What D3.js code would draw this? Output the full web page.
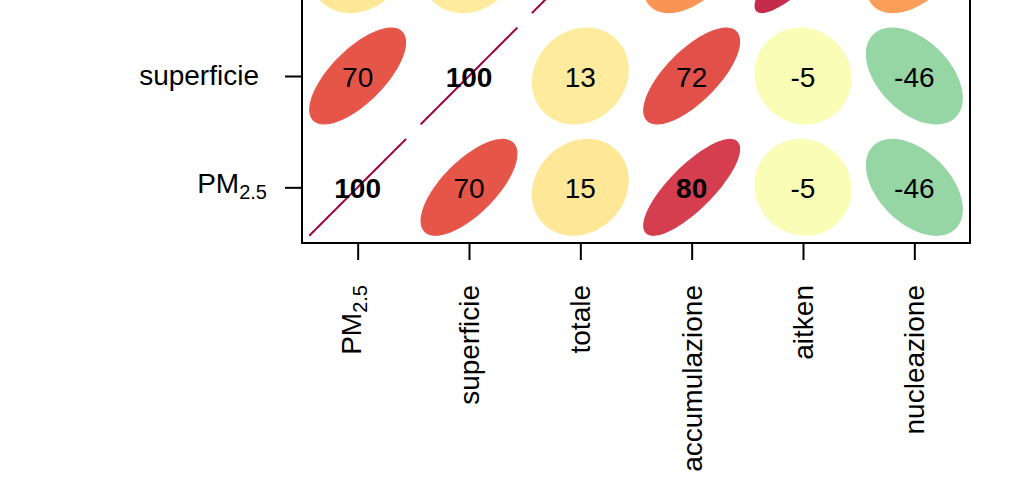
<!DOCTYPE html>
<html>
<head>
<meta charset="utf-8">
<script src="https://cdn.jsdelivr.net/npm/d3@7"></script>
<style>
  html, body { margin: 0; padding: 0; background: #fff; }
  svg { display: block; }
  text { font-family: "Liberation Sans", Arial, Helvetica, sans-serif; fill: #000; }
</style>
</head>
<body>
<svg id="chart" width="1024" height="478"></svg>
<script>
// ---- data ----
const categories = ["PM2.5", "superficie", "totale", "accumulazione", "aitken", "nucleazione"];
const labelMain  = ["PM", "superficie", "totale", "accumulazione", "aitken", "nucleazione"];
const labelSub   = ["2.5", "", "", "", "", ""];
// correlation (%) rows, bottom row first (visible rows only)
const rowPM25       = [100, 70, 15, 80, -5, -46];
const rowSuperficie = [70, 100, 13, 72, -5, -46];
const rowTotale     = [15, 13, 100, 48, 86, 45];
const corrRows = [rowPM25, rowSuperficie, rowTotale];
// Spectral palette (reversed: -1 -> blue/purple, +1 -> dark red)
const spectral = ["#5E4FA2","#3288BD","#66C2A5","#ABDDA4","#E6F598","#FFFFBF",
                  "#FEE08B","#FDAE61","#F46D43","#D53E4F","#9E0142"];

// ---- scales ----
const n = categories.length;
const W = 1024, H = 478;
const x = d3.scaleLinear().domain([0.5, n + 0.5]).range([302, 970]);
const y = d3.scaleLinear().domain([0.5, n + 0.5]).range([243, 243 - 668]);
const colour = d3.scaleLinear()
  .domain(d3.range(spectral.length).map(k => -1 + 2 * k / (spectral.length - 1)))
  .range(spectral)
  .interpolate(d3.interpolateRgb);

const svg = d3.select("#chart");
const T = 0.43;
const line = d3.line().curve(d3.curveLinearClosed);

const cells = [];
corrRows.forEach((row, ri) => row.forEach((v, ci) => cells.push({i: ri + 1, j: ci + 1, v})));

function ellipsePts(c) {
  const r = Math.max(-1, Math.min(1, c.v / 100));
  const d = Math.acos(r);
  return d3.range(100).map(k => {
    const a = 2 * Math.PI * k / 99;
    return [x(c.j + T * Math.cos(a + d / 2)), y(c.i + T * Math.cos(a - d / 2))];
  });
}

const g = svg.append("g");
g.selectAll("path.ell").data(cells).join("path")
  .attr("class", "ell")
  .attr("d", c => line(ellipsePts(c)))
  .attr("fill", c => colour(c.v / 100))
  .attr("stroke", c => colour(c.v / 100))
  .attr("stroke-width", c => Math.abs(c.v) >= 100 ? 2 : 1.2)
  .attr("stroke-linejoin", "round");

// numbers: only for cells whose centre lies inside the visible page
const visibleCells = cells.filter(c => y(c.i) > 0 && y(c.i) < H);
g.selectAll("text.num").data(visibleCells).join("text")
  .attr("class", "num")
  .attr("x", c => x(c.j))
  .attr("y", c => y(c.i))
  .attr("dy", "0.38em")
  .attr("text-anchor", "middle")
  .attr("font-size", 28)
  .attr("font-weight", c => Math.abs(c.v) >= 75 ? "bold" : "normal")
  .text(c => c.v);

// ---- box ----
svg.append("rect")
  .attr("x", x(0.5)).attr("y", y(n + 0.5))
  .attr("width", x(n + 0.5) - x(0.5))
  .attr("height", y(0.5) - y(n + 0.5))
  .attr("fill", "none").attr("stroke", "#000").attr("stroke-width", 2);

// ---- axes (ticks) ----
const ticks = d3.range(1, n + 1);
const ax = svg.append("g").attr("transform", `translate(0,${y(0.5)})`)
  .call(d3.axisBottom(x).tickValues(ticks).tickSize(17).tickFormat(""));
const ay = svg.append("g").attr("transform", `translate(${x(0.5)},0)`)
  .call(d3.axisLeft(y).tickValues(ticks).tickSize(17).tickFormat(""));
[ax, ay].forEach(a => {
  a.select(".domain").remove();
  a.selectAll(".tick line").attr("stroke", "#000").attr("stroke-width", 2);
});

// ---- labels ----
function addLabel(sel, k) {
  sel.append("tspan").text(labelMain[k]);
  if (labelSub[k]) {
    sel.append("tspan").attr("font-size", 20).attr("dy", 6).text(labelSub[k]);
  }
}
// left labels (only rows visible on the page)
ticks.filter(t => y(t) > 0).forEach(t => {
  const k = t - 1;
  const hasSub = !!labelSub[k];
  const tx = svg.append("text")
    .attr("x", hasSub ? 267 : 259)
    .attr("y", y(t) + (hasSub ? 6 : 9))
    .attr("text-anchor", "end")
    .attr("font-size", 28);
  addLabel(tx, k);
});
// bottom labels (vertical)
ticks.forEach((t, k) => {
  const hasSub = !!labelSub[k];
  const tx = svg.append("text")
    .attr("transform", `translate(${x(t) + (hasSub ? 3 : 10)},285) rotate(-90)`)
    .attr("text-anchor", "end")
    .attr("font-size", 28);
  addLabel(tx, k);
});
</script>
</body>
</html>
